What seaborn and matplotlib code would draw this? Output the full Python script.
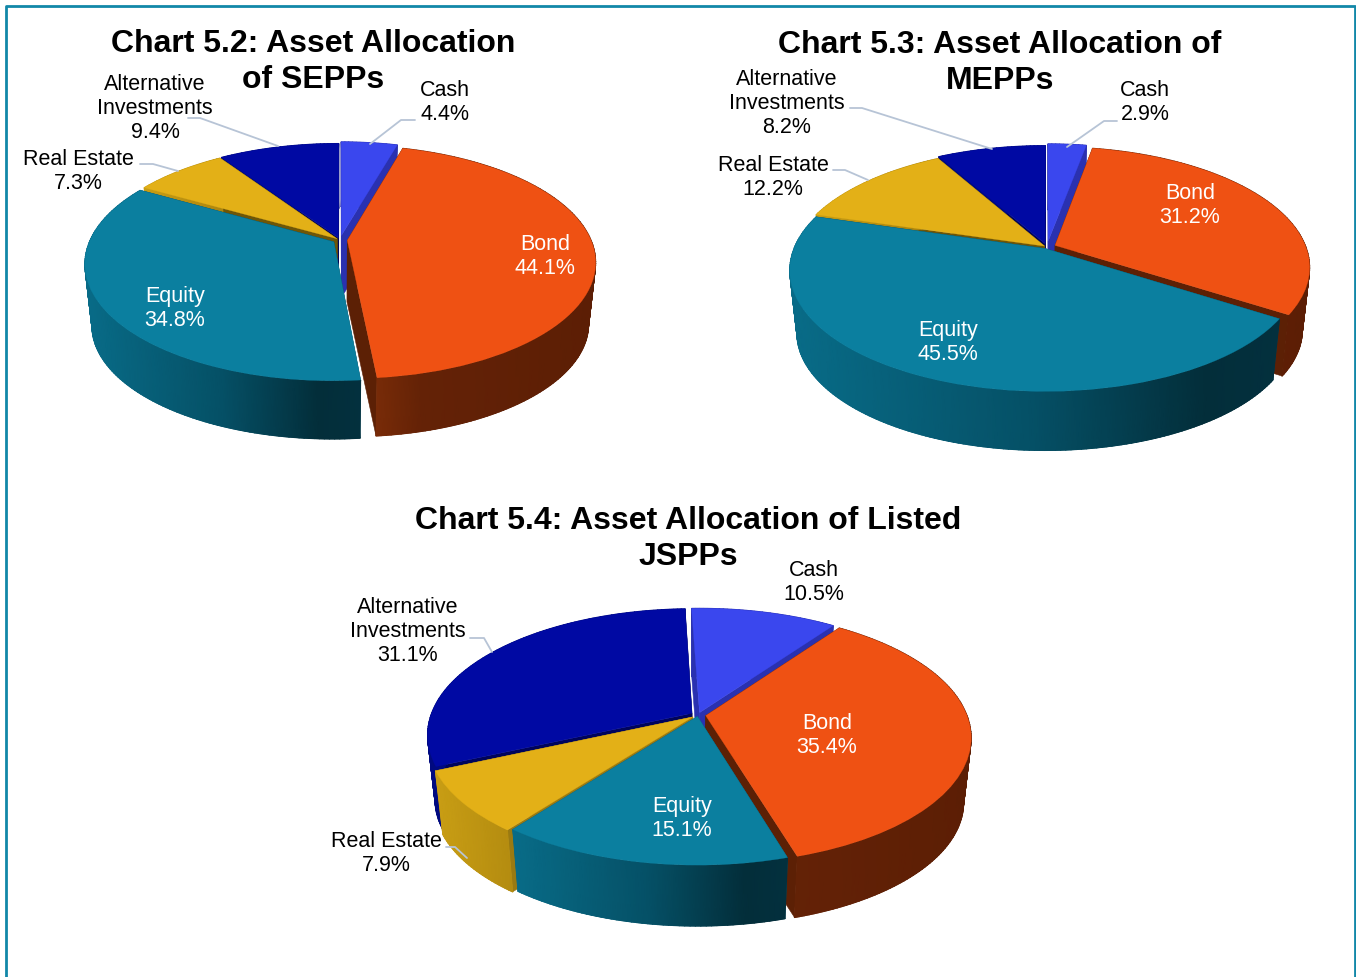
import numpy as np
import matplotlib
matplotlib.use("Agg")
import matplotlib.pyplot as plt
from matplotlib.collections import LineCollection
from matplotlib.colors import LinearSegmentedColormap
from matplotlib.lines import Line2D
from matplotlib.transforms import Transform
import seaborn as sns

# ---------- data ----------
categories = ["Cash", "Bond", "Equity", "Real Estate", "Alternative\nInvestments"]
sepps = [4.4, 44.1, 34.8, 7.3, 9.4]
mepps = [2.9, 31.2, 45.5, 12.2, 8.2]
jspps = [10.5, 35.4, 15.1, 7.9, 31.1]
title_52 = "Chart 5.2: Asset Allocation\nof SEPPs"
title_53 = "Chart 5.3: Asset Allocation of\nMEPPs"
title_54 = "Chart 5.4: Asset Allocation of Listed\nJSPPs"

# ---------- style ----------
sns.set_theme(style="white")
plt.rcParams["font.family"] = ["Liberation Sans", "DejaVu Sans"]
W, H = 1356, 977
top_colors = sns.color_palette(["#3a47ee", "#ef5113", "#0b7f9f", "#e3b017", "#0009a3"])
wall_colors = ["#2a31b0", "#5c2005", "#055064", "#6e5608", "#00045c"]
rim_stops = [
    ["#2a31b0", "#2a31b0"],
    [(0, "#8a3409"), (.1, "#7a2c08"), (.3, "#642206"), (1, "#5c1e05")],
    [(0, "#086c88"), (.5, "#055066"), (.85, "#032e3a"), (1, "#03303e")],
    [(0, "#c99e14"), (.3, "#b48c10"), (1, "#8a6a08")],
    ["#000a80", "#000a80"],
]
rim_maps = [LinearSegmentedColormap.from_list(f"r{i}", s) for i, s in enumerate(rim_stops)]
LEADER = "#b7c4d6"
BORDER = "#1287a8"
LABEL_PT = 15.5
TITLE_PT = 23


class Persp(Transform):
    """Tilted-disc projection of pie coordinates into the page pixels."""
    input_dims = output_dims = 2
    is_separable = False
    has_inverse = False

    def __init__(self, cx, cy, hw, up, down):
        super().__init__()
        self.cx, self.cy = cx, cy
        self.b = 2 * up * down / (up + down)
        self.k = self.b / up - 1
        self.a = hw * np.sqrt(1 - self.k ** 2)

    def transform_non_affine(self, values):
        values = np.asarray(values, float)
        w = 1 + self.k * values[:, 1]
        return np.column_stack([self.cx + self.a * values[:, 0] / w,
                                self.cy - self.b * values[:, 1] / w])


def draw_chart(box, values, title, title_xy, geom, start, explode, label_xy, leaders, white,
               wall_override=None):
    x0, y0, x1, y1 = box
    ax = fig.add_axes([x0 / W, 1 - y1 / H, (x1 - x0) / W, (y1 - y0) / H])
    wedges, _ = ax.pie(values, colors=top_colors, startangle=start, counterclock=False,
                       explode=explode, radius=1, normalize=True)
    ax.set_aspect("auto")
    ax.set_xlim(x0, x1)
    ax.set_ylim(y1, y0)
    ax.set_axis_off()
    ax.patch.set_alpha(0)

    cx, cy, hw, up, down, depth, shrink = geom
    proj = Persp(cx, cy, hw, up, down)
    walls = list(wall_colors)
    if wall_override:
        for k, v in wall_override.items():
            walls[k] = v

    def lower(p):
        return np.column_stack([cx + shrink * (p[:, 0] - cx),
                                cy + depth + shrink * (p[:, 1] - cy)])

    order = np.argsort(-np.array([np.sin(np.radians((w.theta1 + w.theta2) / 2)) for w in wedges]))
    for rank, i in enumerate(order):
        w = wedges[i]
        th = np.radians(np.linspace(w.theta1, w.theta2, max(int(w.theta2 - w.theta1), 2) + 1))
        c = np.array(w.center)
        rim = proj.transform_non_affine(c + w.r * np.column_stack([np.cos(th), np.sin(th)]))
        apex = proj.transform_non_affine(c[None, :])
        rim_low = lower(rim)
        apex_low = lower(apex)
        z = 10 * (rank + 1)
        # the two radial cut faces
        for end in (0, -1):
            face = np.vstack([apex, rim[end], rim_low[end], apex_low])
            ax.fill(face[:, 0], face[:, 1], color=walls[i], lw=0.4, zorder=z)
        # outer rim, shaded across the slice's width
        xmin = min(rim[:, 0].min(), apex[0, 0])
        xmax = max(rim[:, 0].max(), apex[0, 0])
        t_top = (rim[:, 0] - xmin) / (xmax - xmin)
        t_low = np.clip((rim_low[:, 0] - xmin) / (xmax - xmin), 0, 1)
        X = np.vstack([rim[:, 0], rim_low[:, 0]])
        Y = np.vstack([rim[:, 1], rim_low[:, 1]])
        C = np.vstack([t_top, t_low])
        ax.pcolormesh(X, Y, C, shading="gouraud", cmap=rim_maps[i], vmin=0, vmax=1,
                      zorder=z + 1)
        # smooth anti-aliased lower outline of the rim
        segs = np.stack([rim_low[:-1], rim_low[1:]], axis=1)
        ax.add_collection(LineCollection(segs, colors=rim_maps[i](t_low[:-1]),
                                         linewidths=1.0, zorder=z + 1.5, capstyle="round"))
        # top surface comes from the pie itself
        w.set_transform(proj + ax.transData)
        w.set_edgecolor(w.get_facecolor())
        w.set_linewidth(0.2)
        w.set_zorder(z + 2)

    ax.set_xlim(x0, x1)
    ax.set_ylim(y1, y0)
    ax.set_title(title, x=(title_xy[0] - x0) / (x1 - x0), y=1 - (title_xy[1] - y0) / (y1 - y0),
                 pad=0, fontsize=TITLE_PT, fontweight="bold", color="black",
                 va="center", ha="center", linespacing=1.26)
    for j, (cat, val) in enumerate(zip(categories, values)):
        ax.text(*label_xy[j], f"{cat}\n{val}%", fontsize=LABEL_PT, ha="center", va="center",
                color="white" if j in white else "black", linespacing=1.18, zorder=200)
    for pts in leaders:
        pts = np.array(pts)
        ax.plot(pts[:, 0], pts[:, 1], color=LEADER, lw=1.3, zorder=150, solid_capstyle="round")
    return ax


fig = plt.figure(figsize=(W / 100, H / 100), dpi=100, facecolor="white")

draw_chart((8, 8, 680, 470), sepps, title_52, (313, 62),
           (340, 240, 248, 95, 138, 62, .972), 90, [.04, .03, .03, .016, .02],
           [(445, 102.5), (545, 256.5), (175, 308.5), (78, 171.5), (155, 108.5)],
           [[(415, 120), (401, 120), (370, 144)],
            [(188, 118), (200, 118), (278, 146)],
            [(140, 164), (153, 164), (178, 171)]], {1, 2})

draw_chart((680, 8, 1352, 470), mepps, title_53, (1000, 63),
           (1047, 247, 255, 99, 142, 63, .972), 90, [.05, .035, .015, .012, .03],
           [(1145, 102.5), (1190, 205.5), (948, 342.5), (773, 177.5), (787, 103.5)],
           [[(1117, 121), (1104, 121), (1067, 147)],
            [(850, 108), (862, 108), (992, 149)],
            [(833, 170), (845, 170), (868, 180)]], {1, 2})

draw_chart((300, 470, 1000, 975), jspps, title_54, (688, 539),
           (698, 715, 265, 105, 148, 65, .972), 92, [.02, .03, .012, .025, .027],
           [(814, 582.5), (827, 735.5), (682, 818.5), (386, 853.5), (408, 631.5)],
           [[(470, 638), (484, 638), (492, 652)],
            [(446, 847), (455, 847), (467, 858)]], {1, 2},
           wall_override={3: "#9a7a12", 2: "#0a5f78"})

# outer frame (runs off the bottom of the picture)
fig.add_artist(Line2D([5.5 / W, 5.5 / W, 1354.5 / W, 1354.5 / W],
                      [0, 1 - 5.5 / H, 1 - 5.5 / H, 0],
                      transform=fig.transFigure, color=BORDER, lw=2.0))

fig.savefig("out.png", dpi=100, facecolor="white")
